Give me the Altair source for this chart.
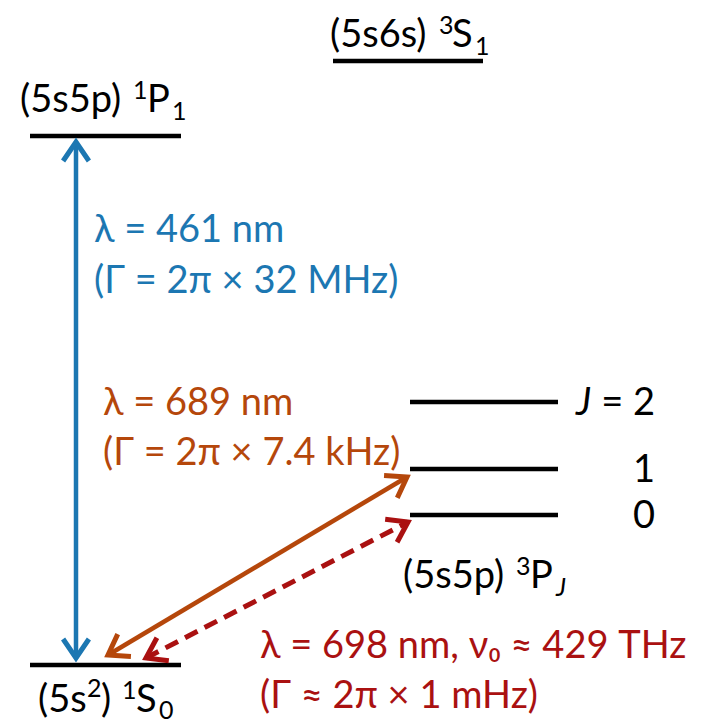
import math
import altair as alt
import pandas as pd

W, H = 705, 726
FONT = "Lato"

BLUE = "#1c77b2"
ORANGE = "#b5470b"
RED = "#aa1111"
BLACK = "#000000"

# ---- energy levels (canvas units, y grows downward) ----
level_names = ["1S0", "1P1", "3S1", "3P0", "3P1", "3P2"]
level_x0 = [30, 30, 333, 410, 410, 410]
level_x1 = [181, 181, 483, 558, 558, 558]
level_y = [665, 136, 61, 515, 469, 402]

# ---- transitions (lower tip -> upper tip) ----
trans_names = ["461 nm", "689 nm", "698 nm"]
trans_x_low = [76, 108, 146]
trans_y_low = [658, 655, 658]
trans_x_high = [76, 407, 408]
trans_y_high = [142, 477, 522]
trans_color = [BLUE, ORANGE, RED]
trans_dashed = [False, False, True]

# ---- text pieces: text, x, baseline y, font size, colour ----
txt_text = [
    "(5s6s)", "3", "S", "1",
    "(5s5p)", "1", "P", "1",
    "(5s5p)", "3", "P",
    "(5s", "2", ")", "1", "S", "0",
    "λ = 461 nm", "(Γ = 2π × 32 MHz)",
    "λ = 689 nm", "(Γ = 2π × 7.4 kHz)",
    "λ = 698 nm, ν₀ ≈ 429 THz", "(Γ ≈ 2π × 1 mHz)",
]
txt_x = [
    330, 439, 452, 475,
    20, 133, 147, 172,
    403, 516, 530,
    38, 87, 101, 122, 136, 159,
    94, 94,
    103, 103,
    260, 260,
]
txt_y = [
    47, 34, 47, 55,
    112, 99, 112, 120,
    588, 575, 588,
    712, 697, 712, 699, 712, 719,
    242, 293,
    415, 465,
    658, 708,
]
txt_size = [
    38, 25, 38, 25,
    38, 25, 38, 25,
    38, 25, 38,
    38, 25, 38, 25, 38, 25,
    38, 38,
    38, 38,
    38, 38,
]
txt_color = [BLACK] * 17 + [BLUE, BLUE, ORANGE, ORANGE, RED, RED]

# italic subscript J and the J = 2 / 1 / 0 column
ital_text = ["J", "J"]
ital_x = [556, 576]
ital_y = [596, 415]
ital_size = [25, 38]

jcol_text = ["= 2", "1", "0"]
jcol_x = [655, 655, 655]
jcol_y = [415, 482, 528]

levels = pd.DataFrame({"name": level_names, "x0": level_x0, "x1": level_x1, "y": level_y})

arrows = pd.DataFrame({
    "name": trans_names, "xl": trans_x_low, "yl": trans_y_low,
    "xh": trans_x_high, "yh": trans_y_high, "color": trans_color, "dashed": trans_dashed,
})


def heading(dx, dy):
    # clockwise angle from "up" on screen
    return math.degrees(math.atan2(dx, -dy)) % 360


heads = []
for r in arrows.itertuples():
    heads.append({"x": r.xh, "y": r.yh, "color": r.color,
                  "angle": heading(r.xh - r.xl, r.yh - r.yl)})
    heads.append({"x": r.xl, "y": r.yl, "color": r.color,
                  "angle": heading(r.xl - r.xh, r.yl - r.yh)})
heads = pd.DataFrame(heads)

texts = pd.DataFrame({"t": txt_text, "x": txt_x, "y": txt_y, "size": txt_size, "color": txt_color})
itals = pd.DataFrame({"t": ital_text, "x": ital_x, "y": ital_y, "size": ital_size})
jcol = pd.DataFrame({"t": jcol_text, "x": jcol_x, "y": jcol_y})

xs = alt.Scale(domain=[0, W], nice=False, zero=False)
ys = alt.Scale(domain=[0, H], nice=False, zero=False, reverse=True)
X = lambda f: alt.X(f, scale=xs, axis=None)
Y = lambda f: alt.Y(f, scale=ys, axis=None)

level_layer = alt.Chart(levels).mark_rule(strokeWidth=4.5, color=BLACK).encode(
    x=X("x0:Q"), x2="x1:Q", y=Y("y:Q")
)

solid = alt.Chart(arrows[~arrows.dashed]).mark_rule(strokeWidth=4.5).encode(
    x=X("xl:Q"), y=Y("yl:Q"), x2="xh:Q", y2="yh:Q",
    color=alt.Color("color:N", scale=None),
)
dashed = alt.Chart(arrows[arrows.dashed]).mark_rule(strokeWidth=5, strokeDash=[14, 8]).encode(
    x=X("xl:Q"), y=Y("yl:Q"), x2="xh:Q", y2="yh:Q",
    color=alt.Color("color:N", scale=None),
)

chevron = "M -0.68 1 L 0 0 L 0.68 1"
head_layer = alt.Chart(heads).mark_point(
    shape=chevron, filled=False, size=1444, strokeWidth=5, opacity=1, strokeJoin="miter"
).encode(
    x=X("x:Q"), y=Y("y:Q"),
    angle=alt.Angle("angle:Q", scale=None),
    color=alt.Color("color:N", scale=None),
)

text_layer = alt.Chart(texts).mark_text(align="left", baseline="alphabetic", font=FONT).encode(
    x=X("x:Q"), y=Y("y:Q"), text="t:N",
    size=alt.Size("size:Q", scale=None),
    color=alt.Color("color:N", scale=None),
)
ital_layer = alt.Chart(itals).mark_text(
    align="left", baseline="alphabetic", font=FONT, fontStyle="italic", color=BLACK
).encode(
    x=X("x:Q"), y=Y("y:Q"), text="t:N", size=alt.Size("size:Q", scale=None),
)
jcol_layer = alt.Chart(jcol).mark_text(
    align="right", baseline="alphabetic", font=FONT, fontSize=38, color=BLACK
).encode(x=X("x:Q"), y=Y("y:Q"), text="t:N")

chart = alt.layer(
    level_layer, solid, dashed, head_layer, text_layer, ital_layer, jcol_layer
).properties(
    width=W, height=H, padding=0, autosize=alt.AutoSizeParams(type="none"), background="white"
).configure_view(stroke=None)

chart.save("out.html", embed_options={"renderer": "svg", "actions": False})
